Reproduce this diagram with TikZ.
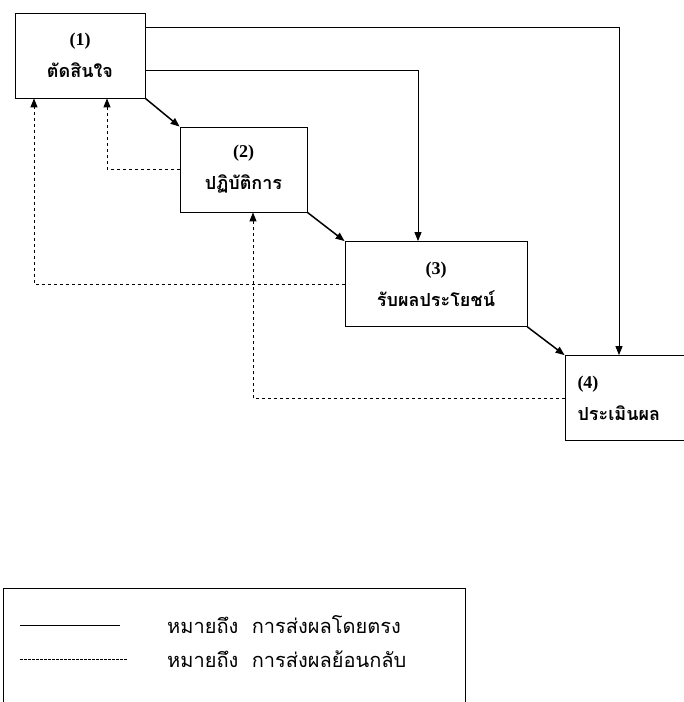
\documentclass[tikz,border=0pt]{standalone}
\usepackage{fontspec}
\setmainfont{Liberation Serif}
\newfontfamily\thaifont[Script=Thai]{Loma}
\usetikzlibrary{arrows.meta}

\begin{document}
\begin{tikzpicture}[x=1pt,y=-1pt,
   box/.style={draw,line width=0.8pt,minimum height=85pt,inner sep=0pt,
     align=center,font=\fontsize{18}{32}\selectfont\bfseries},
   direct/.style={-{Triangle[length=9pt,width=7pt]},line width=0.9pt},
   diag/.style={-{Triangle[length=9pt,width=7pt]},line width=1.5pt},
   feedback/.style={-{Triangle[length=9pt,width=7pt]},dashed,line width=1pt}]
   \useasboundingbox (0,0) rectangle (684,702);

   \node[box,minimum width=130pt] (n1) at (80,55.5) {(1)\\{\thaifont ตัดสินใจ}};
   \node[box,minimum width=127pt] (n2) at (243.5,169.5) {(2)\\{\thaifont ปฏิบัติการ}};
   \node[box,minimum width=182pt] (n3) at (436,284) {(3)\\{\thaifont รับผลประโยชน์}};
   \node[box,minimum width=125pt,text width=100pt,align=left] (n4) at (627.5,398)
     {(4)\\{\thaifont ประเมินผล}};

   \path[diag]
     (n1.south east) edge (n2.north west)
     (n2.south east) edge (n3.north west)
     (n3.south east) edge (n4.north west);
   \draw[direct] ([yshift=28.5pt]n1.east) -| ([xshift=-8.5pt]n4.north);
   \draw[direct] ([yshift=-14.5pt]n1.east) -| ([xshift=-18pt]n3.north);
   \draw[feedback] (n2.west) -| ([xshift=27pt]n1.south);
   \draw[feedback] (n3.west) -| ([xshift=-46pt]n1.south);
   \draw[feedback] (n4.west) -| ([xshift=9.5pt]n2.south);

   \draw[line width=0.9pt] (3,588) rectangle (465,712);
   \coordinate (s1) at (20,625);
   \coordinate (s2) at (120,625);
   \coordinate (d1) at (20,659);
   \coordinate (d2) at (128,659);
   \draw[line width=0.9pt] (s1) -- (s2);
   \draw[dash pattern=on 2.5pt off 1.5pt,line width=0.6pt] (d1) -- (d2);
   \node[anchor=west,inner sep=0pt,font=\thaifont\fontsize{20}{24}\selectfont] (t1) at (167,625)
     {หมายถึง\ \ การส่งผลโดยตรง};
   \node[anchor=west,inner sep=0pt,font=\thaifont\fontsize{20}{24}\selectfont] (t2) at (167,659)
     {หมายถึง\ \ การส่งผลย้อนกลับ};
\end{tikzpicture}
\end{document}
